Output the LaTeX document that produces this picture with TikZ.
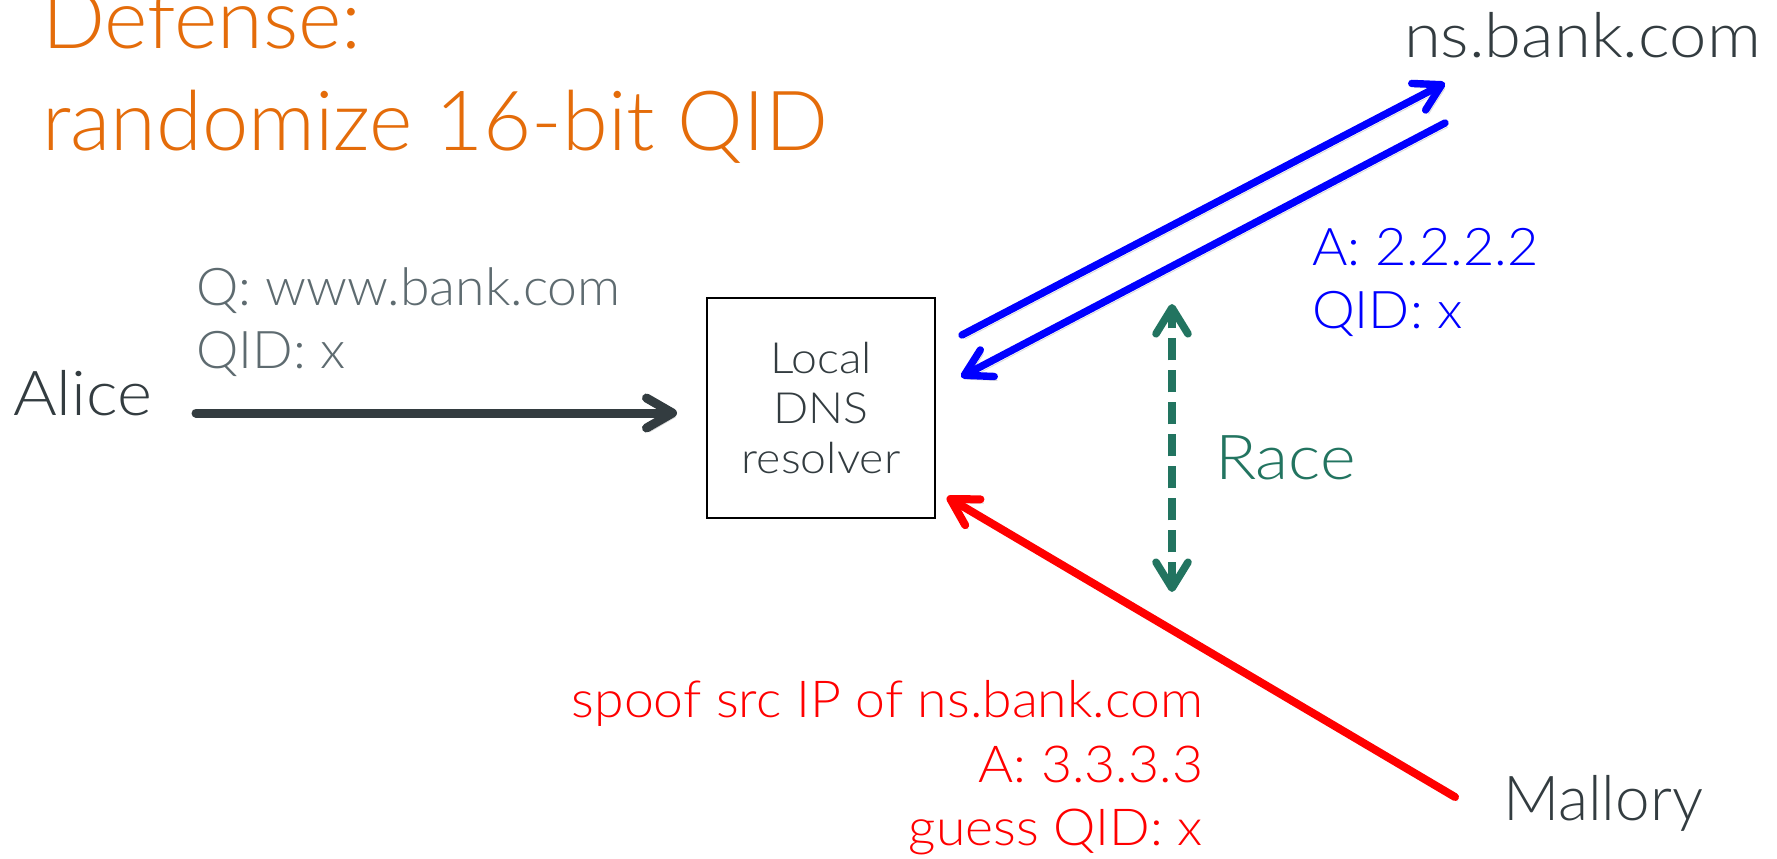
\documentclass[tikz,border=0pt]{standalone}
\usepackage{fontspec}
\setmainfont{Lato}[UprightFont=* Light]
\usetikzlibrary{arrows.meta}
\definecolor{titleorange}{RGB}{228,108,10}
\definecolor{ink}{RGB}{51,60,64}
\definecolor{slate}{RGB}{94,107,112}
\definecolor{raceteal}{RGB}{34,116,96}
\definecolor{ansblue}{RGB}{0,0,255}
\definecolor{spoofred}{RGB}{255,0,0}
% size, line skip and horizontal stretch of a label
\newcommand\setsz[3]{\fontsize{#1}{#2}\selectfont\addfontfeatures{FakeStretch=#3}}
\begin{document}
\begin{tikzpicture}[x=0.5pt,y=-0.5pt,
  lbl/.style={inner sep=0pt,outer sep=0pt,anchor=base west},
  lblr/.style={inner sep=0pt,outer sep=0pt,anchor=base east},
  shadowed/.style={preaction={draw=black,opacity=0.15,
    transform canvas={shift={(1.5pt,-2pt)}}}},
  flow/.style={shadowed,line cap=round,line join=round,
    -{Straight Barb[length=13pt,width=15pt,line cap=round,line join=round]}},
  racearrow/.style={line cap=butt,dash pattern=on 11pt off 5pt,
    {Straight Barb[length=13pt,width=16pt,line cap=round,line join=round]}-{Straight Barb[length=13pt,width=16pt,line cap=round,line join=round]}},
  resolverbox/.style={draw=black,line width=1pt,inner sep=0pt,
    minimum width=114pt,minimum height=110pt,align=center,
    text=ink,font=\setsz{21.5}{25}{1.08}}]
\useasboundingbox (0,0) rectangle (1777,858);
\clip (0,0) rectangle (1777,858);

% heading
\node[lbl,text=titleorange,font=\setsz{41.5}{51}{1.0}] (title1) at (42,48) {Defense:};
\node[lbl,text=titleorange,font=\setsz{41.5}{51}{1.0}] (title2) at (42,150) {randomize 16-bit QID};

% parties
\node[lbl,text=ink,font=\setsz{31}{36}{1.08}] (alice) at (13,415) {Alice};
\node[lbl,text=ink,font=\setsz{31}{36}{1.08}] (ns) at (1404,57) {ns.bank.com};
\node[lbl,text=ink,font=\setsz{31}{36}{1.0}] (mallory) at (1503,820) {Mallory};
\node[resolverbox] (box) at (821,408) {Local\\DNS\\resolver};

% message labels
\node[lbl,text=slate,font=\setsz{26}{31}{1.03}] (q1) at (196,305) {Q: www.bank.com};
\node[lbl,text=slate,font=\setsz{26}{31}{1.03}] (q2) at (196,368) {QID: x};
\node[lbl,text=ansblue,font=\setsz{26}{31}{1.04}] (a1) at (1312,265) {A: 2.2.2.2};
\node[lbl,text=ansblue,font=\setsz{26}{31}{1.04}] (a2) at (1312,328) {QID: x};
\node[lblr,text=spoofred,font=\setsz{25.5}{31}{1.05}] (s1) at (1203,717) {spoof src IP of ns.bank.com};
\node[lblr,text=spoofred,font=\setsz{25.5}{31}{1.05}] (s2) at (1203,782) {A: 3.3.3.3};
\node[lblr,text=spoofred,font=\setsz{25.5}{31}{1.05}] (s3) at (1203,845) {guess QID: x};
\node[lbl,text=raceteal,font=\setsz{31}{36}{1.1}] (race) at (1215,479) {Race};

% arrow end points
\coordinate (aliceout) at (196,413);
\coordinate (qout) at (962,335);
\coordinate (qin) at (1445,83);
\coordinate (rout) at (1445,123);
\coordinate (rin) at (961,377);
\coordinate (spoofout) at (1455,797);
\coordinate (spoofin) at (947,497);
\coordinate (racetop) at (1172,304);
\coordinate (racebot) at (1172,592);

% messages
\draw[flow,draw=ink,line width=4.5pt,shorten >=14.5pt] (aliceout) -- (box.west |- aliceout);
\draw[flow,draw=ansblue,line width=3.7pt] (qout) -- (qin);
\draw[flow,draw=ansblue,line width=3.7pt] (rout) -- (rin);
\draw[flow,draw=spoofred,line width=4pt] (spoofout) -- (spoofin);
\draw[racearrow,draw=raceteal,line width=3.8pt] (racebot) -- (racetop);
\end{tikzpicture}
\end{document}
